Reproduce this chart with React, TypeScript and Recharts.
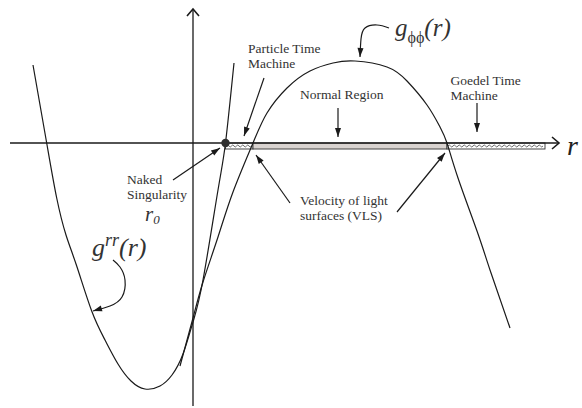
import React from 'react';
import {
  ComposedChart,
  Line,
  Scatter,
  XAxis,
  YAxis,
  ReferenceLine,
  ReferenceArea,
  ReferenceDot,
} from 'recharts';

// ---------- data (origin = crossing of the two drawn axes) ----------
const X_DOMAIN: [number, number] = [-193, 389];
const Y_DOMAIN: [number, number] = [-265, 143];

// g^rr(r): upward parabola-like curve
const gRR = [
  { x: -160, y: 78 },
  { x: -146.3, y: 0 },
  { x: -136.3, y: -55 },
  { x: -127, y: -92 },
  { x: -116.3, y: -123 },
  { x: -101.3, y: -168 },
  { x: -88, y: -197 },
  { x: -75, y: -221 },
  { x: -62, y: -238 },
  { x: -48, y: -246 },
  { x: -33, y: -243 },
  { x: -21, y: -232 },
  { x: -10, y: -211 },
  { x: 0, y: -179 },
  { x: 10, y: -137 },
  { x: 25, y: -47 },
  { x: 32.5, y: 0 },
  { x: 41, y: 80 },
];

// g_phiphi(r): downward curve
const gPhiPhi = [
  { x: -13, y: -223 },
  { x: 0, y: -175 },
  { x: 10, y: -139 },
  { x: 25, y: -94 },
  { x: 40, y: -49 },
  { x: 60, y: 0 },
  { x: 74, y: 30 },
  { x: 94, y: 55 },
  { x: 117, y: 72 },
  { x: 140, y: 80 },
  { x: 162, y: 82 },
  { x: 194, y: 76 },
  { x: 214, y: 62 },
  { x: 234, y: 38 },
  { x: 247, y: 16 },
  { x: 254, y: 0 },
  { x: 265, y: -35 },
  { x: 284, y: -88 },
  { x: 297, y: -127 },
  { x: 317, y: -185 },
];

const nakedSingularity = { x: 32.5, y: 0 };
const bandDepth = -6;
const particleBand = [32.5, 60];
const normalBand = [60, 254];
const goedelBand = [254, 352];

const horizontalAxis = [{ x: -183, y: 0 }, { x: 366, y: 0 }];
const verticalAxis = [{ x: 0, y: -263 }, { x: 0, y: 134 }];

const straightArrows = [
  [{ x: 71, y: 65 }, { x: 51, y: 7 }],
  [{ x: 145, y: 35 }, { x: 145, y: 6 }],
  [{ x: 284, y: 40 }, { x: 284, y: 11 }],
  [{ x: -20, y: -37 }, { x: 27, y: -5 }],
  [{ x: 97, y: -60 }, { x: 63, y: -12 }],
  [{ x: 204, y: -69 }, { x: 252, y: -10 }],
];

const phiArrowPath = [
  { x: 196, y: 115 },
  { x: 184, y: 118 },
  { x: 172, y: 115 },
  { x: 168, y: 104 },
  { x: 167, y: 86 },
];
const rrArrowPath = [
  { x: -80, y: -117 },
  { x: -73, y: -124 },
  { x: -68, y: -137 },
  { x: -71, y: -154 },
  { x: -83, y: -163 },
  { x: -100, y: -168 },
];

const textLabels = [
  { x: 55, y: 90, lines: ['Particle Time', 'Machine'] },
  { x: 107, y: 44, lines: ['Normal Region'] },
  { x: 257.5, y: 58, lines: ['Goedel Time', 'Machine'] },
  { x: -66, y: -41, lines: ['Naked', 'Singularity'] },
  { x: 107, y: -62, lines: ['Velocity of light', 'surfaces (VLS)'] },
];

const r0Label = { x: -48, y: -77.5 };
const gRRLabel = { x: -101, y: -113 };
const gPhiLabel = { x: 202, y: 107 };
const rAxisLabel = { x: 374, y: -12 };

// ---------- styles ----------
const SERIF = '"Liberation Serif", "Times New Roman", "DejaVu Serif", serif';
const INK = '#1a1a1a';
const TEXT = '#333333';

const arrowHead = (x1: number, y1: number, x2: number, y2: number, L = 9, w = 3) => {
  const dx = x2 - x1;
  const dy = y2 - y1;
  const len = Math.sqrt(dx * dx + dy * dy) || 1;
  const ux = dx / len;
  const uy = dy / len;
  const bx = x2 - ux * L;
  const by = y2 - uy * L;
  const nx = -uy;
  const ny = ux;
  return `${x2},${y2} ${bx + nx * w},${by + ny * w} ${bx - nx * w},${by - ny * w}`;
};

const ArrowShape = (props: any) => {
  const { x1, y1, x2, y2 } = props;
  return (
    <g>
      <line x1={x1} y1={y1} x2={x2} y2={y2} stroke={INK} strokeWidth={1.2} />
      <polygon points={arrowHead(x1, y1, x2, y2)} fill={INK} />
    </g>
  );
};

const HeadOnly = (props: any) => {
  const { x1, y1, x2, y2 } = props;
  return <polygon points={arrowHead(x1, y1, x2, y2)} fill={INK} />;
};

const AxisShape = (props: any) => {
  const { x1, y1, x2, y2 } = props;
  const dx = x2 - x1;
  const dy = y2 - y1;
  const len = Math.sqrt(dx * dx + dy * dy) || 1;
  const ux = dx / len;
  const uy = dy / len;
  const nx = -uy;
  const ny = ux;
  const bx = x2 - ux * 7;
  const by = y2 - uy * 7;
  return (
    <g>
      <line x1={x1} y1={y1} x2={x2} y2={y2} stroke={INK} strokeWidth={1.3} />
      <polyline
        points={`${bx + nx * 6},${by + ny * 6} ${x2},${y2} ${bx - nx * 6},${by - ny * 6}`}
        fill="none"
        stroke={INK}
        strokeWidth={1.6}
      />
    </g>
  );
};

const WavyBand = (props: any) => {
  const { x, y, width, height } = props;
  const mid = y + height / 2;
  const period = 5;
  let d = `M${x + 1},${mid}`;
  let cx = x + 1;
  let up = true;
  while (cx + period / 2 <= x + width - 1) {
    d += ` Q${cx + period / 4},${mid + (up ? -2 : 2)} ${cx + period / 2},${mid}`;
    cx += period / 2;
    up = !up;
  }
  return (
    <g>
      <rect x={x} y={y} width={width} height={height} fill="#ffffff" stroke="#333" strokeWidth={0.9} />
      <path d={d} fill="none" stroke="#444" strokeWidth={0.8} />
    </g>
  );
};

const GreyBand = (props: any) => {
  const { x, y, width, height } = props;
  return <rect x={x} y={y} width={width} height={height} fill="#d9d3d0" stroke="#333" strokeWidth={0.9} />;
};

const makeTextShape = (lines: string[]) => (props: any) => {
  const { cx, cy } = props;
  return (
    <text x={cx} y={cy} fontFamily={SERIF} fontSize={13.5} fill={TEXT}>
      {lines.map((l, i) => (
        <tspan key={i} x={cx} y={cy + i * 14.5}>
          {l}
        </tspan>
      ))}
    </text>
  );
};

const R0Shape = (props: any) => (
  <text x={props.cx} y={props.cy} fontFamily={SERIF} fontStyle="italic" fontSize={21} fill="#333">
    r<tspan fontSize={13} dy={3}>0</tspan>
  </text>
);

const GRRShape = (props: any) => (
  <text x={props.cx} y={props.cy} fontFamily={SERIF} fontStyle="italic" fontSize={26} fill="#333">
    g<tspan fontSize={18} dy={-10}>rr</tspan>
    <tspan dy={10}>(r)</tspan>
  </text>
);

const GPhiShape = (props: any) => (
  <text x={props.cx} y={props.cy} fontFamily={SERIF} fontStyle="italic" fontSize={25} fill="#333">
    g<tspan fontSize={16} fontStyle="normal" dy={7}>ϕϕ</tspan>
    <tspan dy={-7}>(r)</tspan>
  </text>
);

const RAxisShape = (props: any) => (
  <text x={props.cx} y={props.cy} fontFamily={SERIF} fontStyle="italic" fontSize={28} fill="#222">
    r
  </text>
);

const NakedDot = (props: any) => <circle cx={props.cx} cy={props.cy} r={4.2} fill="#2e2e2e" />;

const NoPoint = () => <g />;

export default function App() {
  return (
    <div style={{ position: 'absolute', left: 0, top: 0, width: 582, height: 408, background: '#fff' }}>
      <ComposedChart width={582} height={408} margin={{ top: 0, right: 0, bottom: 0, left: 0 }}>
        <XAxis type="number" dataKey="x" domain={X_DOMAIN} allowDataOverflow hide />
        <YAxis type="number" dataKey="y" domain={Y_DOMAIN} allowDataOverflow hide />

        <ReferenceArea x1={particleBand[0]} x2={particleBand[1]} y1={bandDepth} y2={0} shape={WavyBand} ifOverflow="visible" />
        <ReferenceArea x1={normalBand[0]} x2={normalBand[1]} y1={bandDepth} y2={0} shape={GreyBand} ifOverflow="visible" />
        <ReferenceArea x1={goedelBand[0]} x2={goedelBand[1]} y1={bandDepth} y2={0} shape={WavyBand} ifOverflow="visible" />

        <ReferenceLine segment={horizontalAxis} shape={AxisShape} ifOverflow="visible" />
        <ReferenceLine segment={verticalAxis} shape={AxisShape} ifOverflow="visible" />

        <Line data={gRR} dataKey="y" type="natural" stroke={INK} strokeWidth={1.2} dot={false} activeDot={false} isAnimationActive={false} />
        <Line data={gPhiPhi} dataKey="y" type="natural" stroke={INK} strokeWidth={1.2} dot={false} activeDot={false} isAnimationActive={false} />

        <Scatter data={phiArrowPath} line={{ stroke: INK, strokeWidth: 1.2, fill: 'none' }} lineJointType="natural" fill="none" shape={NoPoint} isAnimationActive={false} />
        <Scatter data={rrArrowPath} line={{ stroke: INK, strokeWidth: 1.2, fill: 'none' }} lineJointType="natural" fill="none" shape={NoPoint} isAnimationActive={false} />
        <ReferenceLine segment={phiArrowPath.slice(-2)} shape={HeadOnly} ifOverflow="visible" />
        <ReferenceLine segment={rrArrowPath.slice(-2)} shape={HeadOnly} ifOverflow="visible" />

        {straightArrows.map((seg, i) => (
          <ReferenceLine key={`a${i}`} segment={seg} shape={ArrowShape} ifOverflow="visible" />
        ))}

        <ReferenceDot x={nakedSingularity.x} y={nakedSingularity.y} shape={NakedDot} ifOverflow="visible" />

        {textLabels.map((t, i) => (
          <ReferenceDot key={`t${i}`} x={t.x} y={t.y} shape={makeTextShape(t.lines)} ifOverflow="visible" />
        ))}
        <ReferenceDot x={r0Label.x} y={r0Label.y} shape={R0Shape} ifOverflow="visible" />
        <ReferenceDot x={gRRLabel.x} y={gRRLabel.y} shape={GRRShape} ifOverflow="visible" />
        <ReferenceDot x={gPhiLabel.x} y={gPhiLabel.y} shape={GPhiShape} ifOverflow="visible" />
        <ReferenceDot x={rAxisLabel.x} y={rAxisLabel.y} shape={RAxisShape} ifOverflow="visible" />
      </ComposedChart>
    </div>
  );
}
